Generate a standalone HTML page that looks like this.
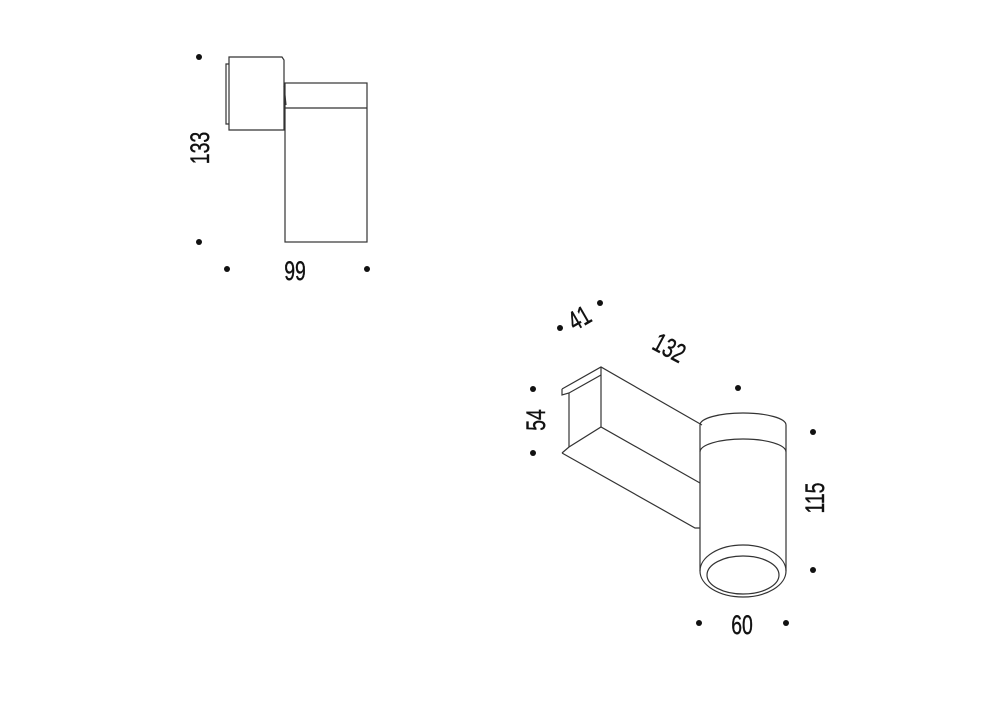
<!DOCTYPE html>
<html><head><style>
html,body{margin:0;padding:0;background:#fff;}
svg text{font-family:"Liberation Sans Narrow","Liberation Sans",sans-serif;font-size:27px;fill:#111;stroke:#111;stroke-width:0.4;}
</style></head><body>
<svg width="1000" height="700" viewBox="0 0 1000 700" xmlns="http://www.w3.org/2000/svg">
<g fill="none" stroke="#333" stroke-width="1.2">
<path d="M229,57 H282 L284,60 V130 H229 Z"/>
<path d="M229,64 H226 V124 H229"/>
<rect x="285" y="83" width="82" height="159"/>
<line x1="285" y1="108" x2="367" y2="108"/>
<path d="M284,86 L286,105"/>
<path d="M562,389 L601,367 L702,425"/>
<path d="M562,389 V395 L569,393 L601,375"/>
<line x1="601" y1="367" x2="601" y2="427"/>
<line x1="569" y1="393" x2="569" y2="447"/>
<path d="M562,453 L569,447 L601,427 L700,483"/>
<path d="M562,453 L695,528 L700,528"/>
<path d="M700,425 A43,12 0 0 1 786,425 V571"/>
<line x1="700" y1="425" x2="700" y2="571"/>
<path d="M700,452 A43,13 0 0 1 786,452"/>
<ellipse cx="743" cy="571" rx="43" ry="26"/>
<ellipse cx="743" cy="575" rx="36" ry="19"/>
</g>
<g fill="#111">
<circle cx="199" cy="57" r="3"/><circle cx="199" cy="242" r="3"/>
<circle cx="227" cy="269" r="3"/><circle cx="367" cy="269" r="3"/>
<circle cx="560" cy="328" r="3"/><circle cx="600" cy="303" r="3"/>
<circle cx="533" cy="389" r="3"/><circle cx="533" cy="453" r="3"/>
<circle cx="738" cy="388" r="3"/><circle cx="813" cy="432" r="3"/>
<circle cx="813" cy="570" r="3"/><circle cx="699" cy="623" r="3"/>
<circle cx="786" cy="623" r="3"/>
</g>
<text transform="translate(295,280) scale(0.72,1)" text-anchor="middle">99</text>
<text transform="translate(209,148) rotate(-90) scale(0.72,1)" text-anchor="middle">133</text>
<text transform="translate(742,634) scale(0.72,1)" text-anchor="middle">60</text>
<text transform="translate(824,498) rotate(-90) scale(0.72,1)" text-anchor="middle">115</text>
<text transform="translate(545,420) rotate(-90) scale(0.72,1)" text-anchor="middle">54</text>
<text transform="translate(584,326) rotate(-30) scale(0.72,1)" text-anchor="middle">41</text>
<text transform="translate(665,356) rotate(28) scale(0.72,1)" text-anchor="middle">132</text>
</svg>
</body></html>
